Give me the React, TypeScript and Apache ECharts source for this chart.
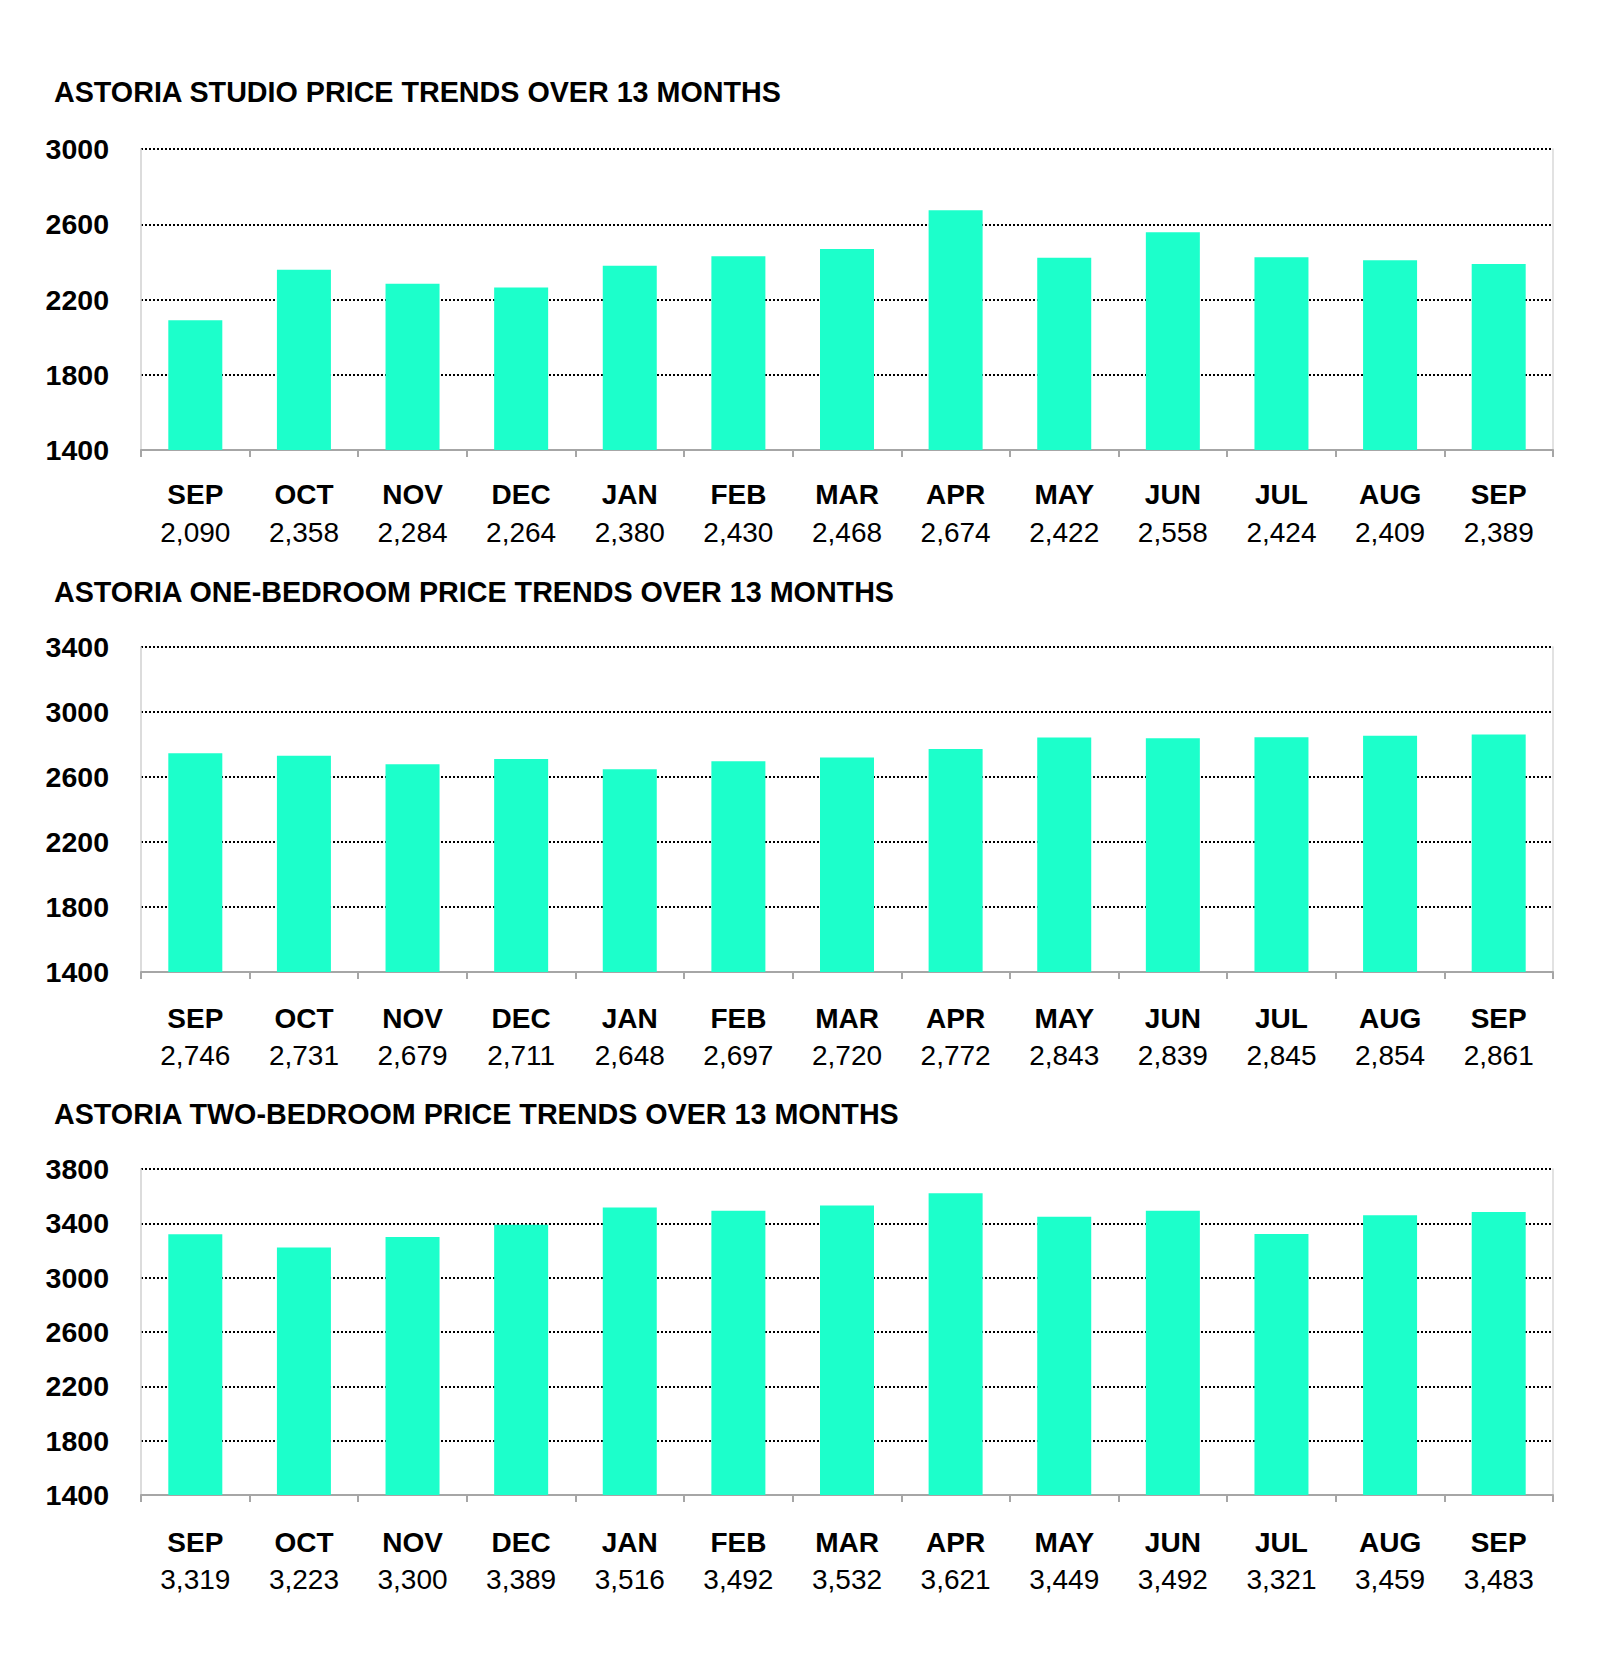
import React, { useEffect, useRef } from "react";
import * as echarts from "echarts";

const months = ["SEP", "OCT", "NOV", "DEC", "JAN", "FEB", "MAR", "APR", "MAY", "JUN", "JUL", "AUG", "SEP"];
const studioPrices = [2090, 2358, 2284, 2264, 2380, 2430, 2468, 2674, 2422, 2558, 2424, 2409, 2389];
const oneBedroomPrices = [2746, 2731, 2679, 2711, 2648, 2697, 2720, 2772, 2843, 2839, 2845, 2854, 2861];
const twoBedroomPrices = [3319, 3223, 3300, 3389, 3516, 3492, 3532, 3621, 3449, 3492, 3321, 3459, 3483];
const chartTitles = [
  "ASTORIA STUDIO PRICE TRENDS OVER 13 MONTHS",
  "ASTORIA ONE-BEDROOM PRICE TRENDS OVER 13 MONTHS",
  "ASTORIA TWO-BEDROOM PRICE TRENDS OVER 13 MONTHS",
];
const yMin = [1400, 1400, 1400];
const yMax = [3000, 3400, 3800];
const yStep = 400;

const seriesValues = [studioPrices, oneBedroomPrices, twoBedroomPrices];

// layout (pixels)
const panels = [
  { top: 149, height: 301, titleY: 93, margin: 26, lh: 37.5 },
  { top: 647, height: 325, titleY: 593, margin: 27.5, lh: 37 },
  { top: 1169, height: 326, titleY: 1115, margin: 28.5, lh: 37 },
];

const FONT = '"Liberation Sans", Arial, Helvetica, sans-serif';
const BAR = "#1cffcb";
const fmt = (n: number) => n.toLocaleString("en-US");

export default function App() {
  const ref = useRef<HTMLDivElement>(null);
  useEffect(() => {
    document.body.style.margin = "0";
    if (!ref.current) return;
    const chart = echarts.init(ref.current, undefined, { renderer: "svg" });

    const grid = panels.map((p) => ({ left: 141, width: 1412, top: p.top, height: p.height }));
    const xAxis = panels.map((p, i) => ({
      type: "category",
      gridIndex: i,
      data: months,
      boundaryGap: true,
      axisLine: { show: true, lineStyle: { color: "#a6a6a6", width: 2 } },
      axisTick: { show: true, length: 7, alignWithLabel: false, lineStyle: { color: "#a6a6a6", width: 2 } },
      splitLine: { show: false },
      axisLabel: {
        interval: 0,
        hideOverlap: false,
        margin: p.margin,
        formatter: (v: string, idx: number) => `{m|${v}}\n{v|${fmt(seriesValues[i][idx])}}`,
        rich: {
          m: { fontFamily: FONT, fontSize: 28, fontWeight: "bold", color: "#000", lineHeight: p.lh, align: "center" },
          v: { fontFamily: FONT, fontSize: 28, color: "#000", lineHeight: p.lh, align: "center" },
        },
      },
    }));
    const yAxis: any[] = [];
    panels.forEach((p, i) => {
      yAxis.push({
        type: "value",
        gridIndex: i,
        position: "left",
        min: yMin[i],
        max: yMax[i],
        interval: yStep,
        axisLine: { show: true, lineStyle: { color: "#d0d0d0", width: 1.5 } },
        axisTick: { show: false },
        axisLabel: {
          margin: 32,
          fontFamily: FONT,
          fontSize: 28.5,
          fontWeight: "bold",
          color: "#000",
          formatter: (v: number) => String(v),
        },
        splitLine: {
          show: true,
          showMinLine: false,
          lineStyle: { color: "#000", width: 2, type: [2, 2] },
        },
      });
      yAxis.push({
        type: "value",
        gridIndex: i,
        position: "right",
        min: yMin[i],
        max: yMax[i],
        interval: yStep,
        axisLine: { show: true, lineStyle: { color: "#d9d9d9", width: 1.5 } },
        axisTick: { show: false },
        axisLabel: { show: false },
        splitLine: { show: false },
      });
    });
    const series = seriesValues.map((vals, i) => ({
      type: "bar",
      xAxisIndex: i,
      yAxisIndex: i * 2,
      data: vals,
      barWidth: 54,
      itemStyle: { color: BAR },
      z: 3,
    }));
    const graphic = panels.map((p, i) => ({
      type: "text",
      left: 54,
      top: p.titleY - 16,
      style: {
        text: chartTitles[i],
        font: `bold 28.7px ${FONT}`,
        fill: "#000",
      },
    }));

    chart.setOption({
      animation: false,
      backgroundColor: "#fff",
      grid,
      xAxis,
      yAxis,
      series,
      graphic,
    });
    return () => chart.dispose();
  }, []);
  return <div ref={ref} style={{ width: 1600, height: 1663 }} />;
}
